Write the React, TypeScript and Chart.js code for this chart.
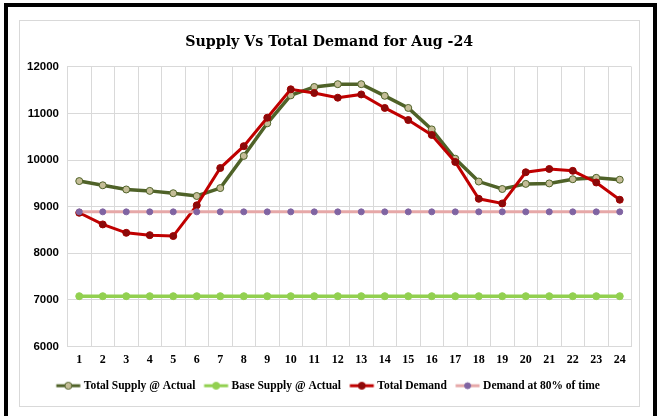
import React, { useEffect, useRef } from "react";
import { Chart, registerables } from "chart.js";

Chart.register(...registerables);

const hours = ["1","2","3","4","5","6","7","8","9","10","11","12","13","14","15","16","17","18","19","20","21","22","23","24"];
const totalSupply = [9550, 9460, 9370, 9340, 9290, 9230, 9400, 10090, 10790, 11390, 11570, 11630, 11630, 11380, 11120, 10660, 10030, 9540, 9380, 9490, 9500, 9590, 9620, 9580];
const baseSupply = [7080, 7080, 7080, 7080, 7080, 7080, 7080, 7080, 7080, 7080, 7080, 7080, 7080, 7080, 7080, 7080, 7080, 7080, 7080, 7080, 7080, 7080, 7080, 7080];
const totalDemand = [8870, 8620, 8440, 8390, 8370, 9030, 9830, 10300, 10910, 11520, 11440, 11340, 11410, 11120, 10860, 10540, 9960, 9170, 9070, 9740, 9810, 9770, 9520, 9150];
const demand80 = [8890, 8890, 8890, 8890, 8890, 8890, 8890, 8890, 8890, 8890, 8890, 8890, 8890, 8890, 8890, 8890, 8890, 8890, 8890, 8890, 8890, 8890, 8890, 8890];
const seriesNames = ["Total Supply @ Actual", "Base Supply @ Actual", "Total Demand", "Demand at 80% of time"];
const yMin = 6000;
const yMax = 12000;
const yStep = 1000;
const titleText = "Supply Vs Total Demand for Aug -24";

const styles = [
  { line: "#4F6228", fill: "#C4BD97", border: "#4F6228", width: 3.5, r: 3.5 },
  { line: "#92D050", fill: "#92D050", border: "#92D050", width: 3.5, r: 3.5 },
  { line: "#C00000", fill: "#8B0A0A", border: "#A00000", width: 3, r: 3.5 },
  { line: "#E6A8A8", fill: "#8064A2", border: "#8064A2", width: 3, r: 3 },
];

const MARGIN = 6.5;
const MARK_W = 24;

function makeMarker(s: any) {
  const c = document.createElement("canvas");
  c.width = MARGIN * 2 + MARK_W;
  c.height = 10;
  const ctx = c.getContext("2d")!;
  ctx.translate(MARGIN, 0);
  ctx.strokeStyle = s.line;
  ctx.lineWidth = 3;
  ctx.beginPath();
  ctx.moveTo(0, 5);
  ctx.lineTo(MARK_W, 5);
  ctx.stroke();
  ctx.beginPath();
  ctx.arc(MARK_W / 2, 5, s.r, 0, Math.PI * 2);
  ctx.fillStyle = s.fill;
  ctx.fill();
  ctx.lineWidth = 1;
  ctx.strokeStyle = s.border;
  ctx.stroke();
  return c;
}

export default function App() {
  const ref = useRef<HTMLCanvasElement>(null);
  useEffect(() => {
    if (!ref.current) return;
    Chart.defaults.color = "#000";
    const markers = styles.map(makeMarker);
    const values = [totalSupply, baseSupply, totalDemand, demand80];
    const chart = new Chart(ref.current, {
      type: "line",
      data: {
        labels: hours,
        datasets: values.map((d, i) => ({
          label: seriesNames[i],
          data: d,
          borderColor: styles[i].line,
          backgroundColor: styles[i].fill,
          borderWidth: styles[i].width,
          pointRadius: styles[i].r,
          pointBackgroundColor: styles[i].fill,
          pointBorderColor: styles[i].border,
          pointBorderWidth: 1,
          tension: 0,
          fill: false,
          order: 4 - i,
        })),
      },
      options: {
        responsive: false,
        animation: false,
        layout: { padding: { left: 7, right: 7.5, top: 0, bottom: 4.5 } },
        plugins: {
          title: {
            display: true,
            text: titleText,
            color: "#000",
            font: { family: "'DejaVu Serif'", weight: "bold", size: 14.2 },
            padding: { top: 12.5, bottom: 16.4 },
          },
          legend: {
            position: "bottom",
            labels: {
              usePointStyle: true,
              pointStyleWidth: MARGIN + 13,
              boxHeight: 10,
              padding: 11,
              color: "#000",
              font: { family: "'Liberation Serif'", weight: "bold", size: 11.5 },
              generateLabels: (ch: any) =>
                ch.data.datasets.map((ds: any, i: number) => ({
                  text: ds.label,
                  pointStyle: markers[i],
                  fillStyle: styles[i].line,
                  strokeStyle: styles[i].line,
                  lineWidth: 0,
                  hidden: false,
                  datasetIndex: i,
                  fontColor: "#000",
                })),
            },
          },
          tooltip: { enabled: false },
        },
        scales: {
          x: {
            offset: true,
            grid: { color: "#D9D9D9", offset: true, drawTicks: false, lineWidth: 1 },
            border: { color: "#D9D9D9" },
            ticks: {
              padding: 6,
              color: "#000",
              font: { family: "'Liberation Serif'", weight: "bold", size: 12 },
            },
            afterFit: (s: any) => {
              s.height = 22.5;
            },
          },
          y: {
            min: yMin,
            max: yMax,
            grid: { color: "#D9D9D9", drawTicks: false, lineWidth: 1 },
            border: { color: "#D9D9D9" },
            ticks: {
              stepSize: yStep,
              padding: 8.5,
              color: "#000",
              font: { family: "'Liberation Sans'", weight: "bold", size: 11.5 },
              callback: (v: any) => String(v),
            },
            afterFit: (s: any) => {
              s.width = 40.5;
            },
          },
        },
      },
    });
    return () => chart.destroy();
  }, []);

  return (
    <div style={{ position: "fixed", left: 0, top: 0, width: 664, height: 416, background: "#fff", overflow: "hidden" }}>
      <div
        style={{
          position: "absolute",
          left: 4,
          top: 3,
          width: 645,
          height: 430,
          border: "4px solid #000",
        }}
      />
      <div
        style={{
          position: "absolute",
          left: 19,
          top: 20,
          width: 619,
          height: 385,
          border: "1px solid #D9D9D9",
          background: "#fff",
        }}
      >
        <canvas ref={ref} width={619} height={385} style={{ display: "block", width: 619, height: 385 }} />
      </div>
    </div>
  );
}
